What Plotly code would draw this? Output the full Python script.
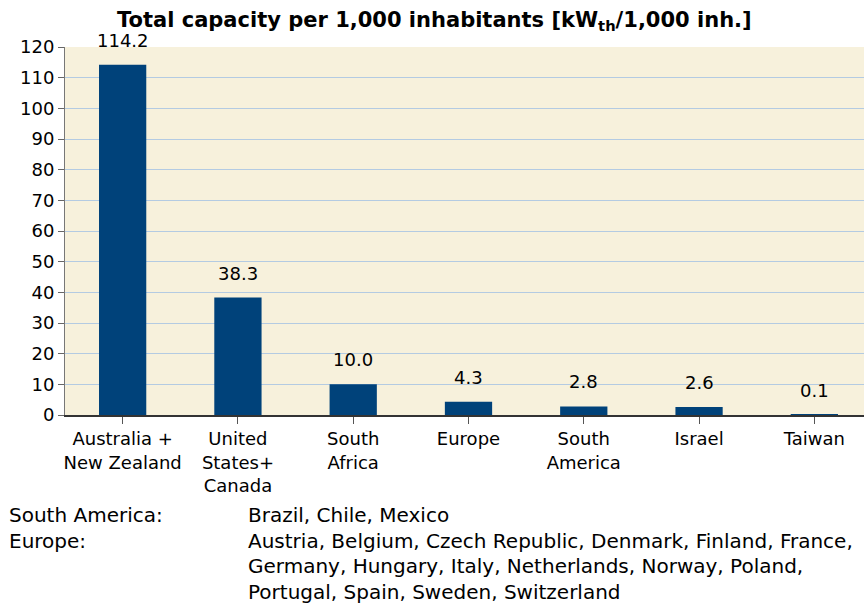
import plotly.graph_objects as go

categories = ["Australia +<br>New Zealand", "United<br>States+<br>Canada", "South<br>Africa",
              "Europe", "South<br>America", "Israel", "Taiwan"]
values = [114.2, 38.3, 10.0, 4.3, 2.8, 2.6, 0.1]
value_labels = ["114.2", "38.3", "10.0", "4.3", "2.8", "2.6", "0.1"]
y_ticks = list(range(0, 121, 10))

title_text = "<b>Total capacity per 1,000 inhabitants [kW<sub>th</sub>/1,000 inh.]</b>"
note_labels = ["South America:", "Europe:", "", ""]
note_texts = ["Brazil, Chile, Mexico",
              "Austria, Belgium, Czech Republic, Denmark, Finland, France,",
              "Germany, Hungary, Italy, Netherlands, Norway, Poland,",
              "Portugal, Spain, Sweden, Switzerland"]

FONT = "DejaVu Sans"
W, H = 864, 605
ML, MR, MT, MB = 65, 0, 47, 190
pw = W - ML - MR
ph = H - MT - MB

fig = go.Figure()
fig.add_trace(go.Bar(x=list(range(len(categories))), y=values,
                     marker=dict(color="#00427A", line=dict(width=0)),
                     width=0.41, hoverinfo="skip"))

for i, (v, t) in enumerate(zip(values, value_labels)):
    fig.add_annotation(x=i, y=v, text=t, showarrow=False, xref="x", yref="y",
                       yanchor="bottom", yshift=12,
                       font=dict(family=FONT, size=18, color="#000000"))

fig.add_annotation(x=(434 - ML) / pw, y=1 + (MT - 21) / ph,
                   xref="paper", yref="paper", text=title_text, showarrow=False,
                   xanchor="center", yanchor="middle",
                   font=dict(family=FONT, size=21, color="#000000"))

line_y = [515, 541, 566, 592]
for lab, txt, py in zip(note_labels, note_texts, line_y):
    yp = (H - MB - py) / ph
    if lab:
        fig.add_annotation(x=(7 - ML) / pw, y=yp, xref="paper", yref="paper", text=lab,
                           showarrow=False, xanchor="left", yanchor="middle",
                           font=dict(family=FONT, size=20, color="#000000"))
    fig.add_annotation(x=(246 - ML) / pw, y=yp, xref="paper", yref="paper", text=txt,
                       showarrow=False, xanchor="left", yanchor="middle",
                       font=dict(family=FONT, size=20, color="#000000"))

fig.update_layout(
    width=W, height=H,
    margin=dict(l=ML, r=MR, t=MT, b=MB, pad=0),
    paper_bgcolor="#FFFFFF", plot_bgcolor="#F7F1DC",
    showlegend=False,
    font=dict(family=FONT, size=18, color="#000000"),
)
fig.update_xaxes(
    tickmode="array", tickvals=list(range(len(categories))), ticktext=categories,
    range=[-0.5, 6.5 - 8 / 115.5], tickson="boundaries",
    ticks="outside", ticklen=7, tickcolor="#555555", tickwidth=1,
    showline=True, linecolor="#333333", linewidth=1.5,
    showgrid=False, zeroline=False,
    tickfont=dict(family=FONT, size=18, color="#000000"),
    fixedrange=True,
)
fig.update_yaxes(
    range=[0, 120], tickmode="array", tickvals=y_ticks,
    ticks="outside", ticklen=6, tickcolor="#666666", tickwidth=1,
    showline=True, linecolor="#777777", linewidth=1,
    showgrid=True, gridcolor="#B4CBE2", gridwidth=1, zeroline=False,
    tickfont=dict(family=FONT, size=18, color="#000000"),
    fixedrange=True,
)

fig.write_html("out.html", config={"displayModeBar": False})
